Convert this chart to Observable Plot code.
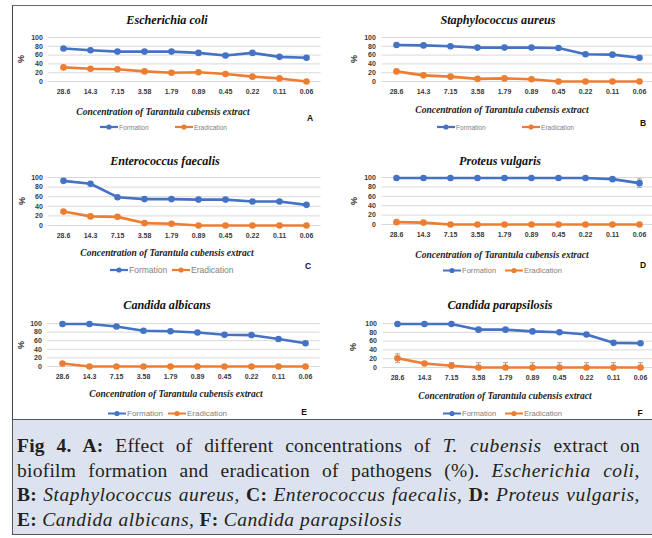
<!DOCTYPE html>
<html>
<head>
<meta charset="utf-8">
<script src="https://cdn.jsdelivr.net/npm/d3@7"></script>
<script src="https://cdn.jsdelivr.net/npm/@observablehq/plot@0.6"></script>
<style>
  html, body { margin: 0; padding: 0; background: #fff; }
  #fig { position: relative; width: 652px; height: 538px; overflow: hidden; background: #fff; }
  .abs { position: absolute; white-space: nowrap; }
  .ptitle { font-family: "Liberation Serif", serif; font-weight: bold; font-style: italic; font-size: 13.5px; color: #111; transform: translate(-50%, -50%) scaleX(0.9); }
  .xtitle { font-family: "Liberation Serif", serif; font-weight: bold; font-style: italic; font-size: 9.5px; color: #222; transform: translate(-50%, -50%); }
  .ylab { font-family: "Liberation Sans", sans-serif; font-weight: bold; font-size: 9px; color: #333; transform: translate(-50%, -50%) rotate(-90deg); }
  .letter { font-family: "Liberation Sans", sans-serif; font-weight: bold; font-size: 8.5px; color: #111; transform: translate(-50%, -50%); }
  .leg { font-family: "Liberation Sans", sans-serif; color: #7f7f7f; transform: translate(0, -50%); display: flex; align-items: center; }
  .frame { position: absolute; left: 12px; top: 5px; width: 700px; height: 413px; border-top: 1.5px solid #6b6b6b; border-left: 1.5px solid #444; }
  .caption { position: absolute; left: 12px; top: 419px; width: 700px; height: 114px; background: #dde3ee; border: 1.5px solid #555; }
  .cap { position: absolute; left: 17px; width: 623px; font-family: "Liberation Serif", serif; font-size: 19.5px; letter-spacing: 0.25px; color: #231f20; text-align: justify; text-align-last: justify; white-space: nowrap; }
  .cap i { letter-spacing: 0.55px; }
  .cap.last { text-align-last: left; }
  svg.plot { position: absolute; overflow: visible; }
</style>
</head>
<body>
<div id="fig">
  <div class="frame"></div>
  <div class="caption"></div>
</div>
<script>
// ---------- data ----------
const categories = ["28.6","14.3","7.15","3.58","1.79","0.89","0.45","0.22","0.11","0.06"];
const seriesNames = ["Formation", "Eradication"];
const seriesColors = ["#4472c4", "#ed7d31"];
const yTicks = [0, 20, 40, 60, 80, 100];

const formationA   = [75, 71, 68, 68, 68, 65, 59, 65, 56, 54];
const eradicationA = [32, 29, 28, 23, 20, 21, 17, 11, 7, 0];
const formationB   = [83, 82, 80, 77, 77, 77, 76, 62, 61, 54];
const eradicationB = [23, 14, 11, 6, 7, 5, 0, 0, 0, 0];
const formationC   = [93, 87, 59, 55, 55, 54, 54, 50, 50, 43];
const eradicationC = [29, 19, 18, 5, 3.5, 0, 0, 0, 0, 0];
const formationD   = [99, 99, 99, 99, 99, 99, 99, 99, 96.5, 88];
const eradicationD = [5, 4, 0, 0, 0, 0, 0, 0, 0, 0];
const errorFormationD = [0, 0, 0, 0, 0, 0, 0, 0, 0, 9];
const formationE   = [99, 99, 93, 83, 82, 79, 74, 73, 64, 54];
const eradicationE = [7, 0, 0, 0, 0, 0, 0, 0, 0, 0];
const formationF   = [99, 99, 99, 86, 86, 82, 80, 75, 56, 55];
const eradicationF = [21, 9, 4, 0, 0, 0, 0, 0, 0, 0];
const errorEradicationF = [10, 2, 7, 11, 11, 11, 11, 11, 11, 11];

const panelTitles = ["Escherichia coli", "Staphylococcus aureus", "Enterococcus faecalis", "Proteus vulgaris", "Candida albicans", "Candida parapsilosis"];
const panelLetters = ["A", "B", "C", "D", "E", "F"];
const xTitle = "Concentration of Tarantula cubensis extract";
const yTitle = "%";

// ---------- layout (page pixel positions) ----------
const layout = [
  {cell:[0,0],   xr:[48.4,320.6], y100:37,  y0:81,  title:[167,20],  ylab:[21,59],   xt:[163,112], let:[310,118], legY:127, legF:100, legE:175, legFs:6.6},
  {cell:[326,0], xr:[381.4,653.6],y100:37,  y0:81,  title:[498,20],  ylab:[354,59],  xt:[502,110], let:[643,123], legY:127, legF:437, legE:522, legFs:6.6},
  {cell:[0,140], xr:[48.4,320.6], y100:177, y0:225, title:[165,161], ylab:[22,201],  xt:[167,253], let:[308,266], legY:270, legF:110, legE:172, legFs:8.5},
  {cell:[326,140],xr:[381.4,653.6],y100:177,y0:224, title:[500,161], ylab:[354,201], xt:[502,255], let:[643,265], legY:270, legF:443, legE:505, legFs:7.6},
  {cell:[0,280], xr:[47.4,319.6], y100:323, y0:366, title:[167,305], ylab:[21,345],  xt:[176,394], let:[304,412], legY:413, legF:108, legE:168, legFs:8},
  {cell:[326,280],xr:[382.5,653.5],y100:323,y0:367, title:[500,305], ylab:[353,347], xt:[505,396], let:[640,413], legY:413, legF:443, legE:505, legFs:7.6}
];

const formations = [formationA, formationB, formationC, formationD, formationE, formationF];
const eradications = [eradicationA, eradicationB, eradicationC, eradicationD, eradicationE, eradicationF];
const errorsF = [null, null, null, errorFormationD, null, null];
const errorsE = [null, null, null, null, null, errorEradicationF];

// horizontal-cap symbol for error bars
const capSymbol = { draw(ctx, size) { const r = Math.sqrt(size / Math.PI); ctx.moveTo(-r, 0); ctx.lineTo(r, 0); } };

const fig = document.getElementById("fig");

function addDiv(cls, x, y, html, extraStyle) {
  const d = document.createElement("div");
  d.className = "abs " + cls;
  d.style.left = x + "px";
  d.style.top = y + "px";
  if (extraStyle) Object.assign(d.style, extraStyle);
  d.innerHTML = html;
  fig.appendChild(d);
  return d;
}

function legendSwatch(color) {
  const w = 18;
  return `<svg width="${w}" height="8" style="margin-right:1px"><line x1="0" x2="${w}" y1="4" y2="4" stroke="${color}" stroke-width="2.2"/><circle cx="${w/2}" cy="4" r="2.6" fill="${color}"/></svg>`;
}

layout.forEach((L, k) => {
  const W = 330, H = 140;
  const [cx, cy] = L.cell;
  const rows = [];
  categories.forEach((c, i) => {
    rows.push({c, v: formations[k][i], s: "Formation", e: errorsF[k] ? errorsF[k][i] : 0});
    rows.push({c, v: eradications[k][i], s: "Eradication", e: errorsE[k] ? errorsE[k][i] : 0});
  });
  const errRows = rows.filter(d => d.e > 0);
  const lowRows = errRows.filter(d => d.v - d.e > 0);
  const svg = Plot.plot({
    width: W,
    height: H,
    marginLeft: L.xr[0] - cx,
    marginRight: cx + W - L.xr[1],
    marginTop: L.y100 - cy,
    marginBottom: cy + H - L.y0,
    style: {fontFamily: "'Liberation Sans', sans-serif", fontSize: "7px", fontWeight: "bold", color: "#3a3a3a", background: "transparent"},
    x: {type: "point", domain: categories, padding: 0.5, align: 0.5},
    y: {domain: [0, 100]},
    color: {domain: seriesNames, range: seriesColors},
    marks: [
      Plot.ruleY(yTicks, {stroke: "#d9d9d9", strokeWidth: 1}),
      Plot.axisY({ticks: yTicks, tickSize: 0, tickPadding: 6, label: null}),
      Plot.axisX({tickSize: 0, tickPadding: 8, label: null}),
      Plot.ruleX(errRows, {x: "c", y1: d => Math.max(0, d.v - d.e), y2: d => d.v + d.e, stroke: "#a6a6a6", strokeWidth: 1}),
      Plot.dot(errRows, {x: "c", y: d => d.v + d.e, symbol: capSymbol, r: 2.5, stroke: "#a6a6a6", fill: "none", strokeWidth: 1}),
      Plot.dot(lowRows, {x: "c", y: d => d.v - d.e, symbol: capSymbol, r: 2.5, stroke: "#a6a6a6", fill: "none", strokeWidth: 1}),
      Plot.line(rows, {x: "c", y: "v", z: "s", stroke: "s", strokeWidth: 2.6}),
      Plot.dot(rows, {x: "c", y: "v", fill: "s", r: 3.3, stroke: "none"})
    ]
  });
  svg.classList.add("plot");
  svg.style.left = cx + "px";
  svg.style.top = cy + "px";
  fig.appendChild(svg);

  addDiv("ptitle", L.title[0], L.title[1], panelTitles[k]);
  addDiv("ylab", L.ylab[0], L.ylab[1], yTitle);
  addDiv("xtitle", L.xt[0], L.xt[1], xTitle);
  addDiv("letter", L.let[0], L.let[1], panelLetters[k]);
  addDiv("leg", L.legF, L.legY, legendSwatch(seriesColors[0]) + seriesNames[0], {fontSize: L.legFs + "px"});
  addDiv("leg", L.legE, L.legY, legendSwatch(seriesColors[1]) + seriesNames[1], {fontSize: L.legFs + "px"});
});

// ---------- caption ----------
const captionLines = [
  "<b>Fig 4. A:</b> Effect of different concentrations of <i>T. cubensis</i> extract on",
  "biofilm formation and eradication of pathogens (%). <i>Escherichia coli,</i>",
  "<b>B:</b> <i>Staphylococcus aureus,</i> <b>C:</b> <i>Enterococcus faecalis,</i> <b>D:</b> <i>Proteus vulgaris,</i>",
  "<b>E:</b> <i>Candida albicans,</i> <b>F:</b> <i>Candida parapsilosis</i>"
];
const captionTops = [435, 459.5, 484, 508.5];
captionLines.forEach((t, i) => {
  const d = document.createElement("div");
  d.className = "cap" + (i === captionLines.length - 1 ? " last" : "");
  d.style.top = captionTops[i] + "px";
  d.innerHTML = t;
  fig.appendChild(d);
});
</script>
</body>
</html>
